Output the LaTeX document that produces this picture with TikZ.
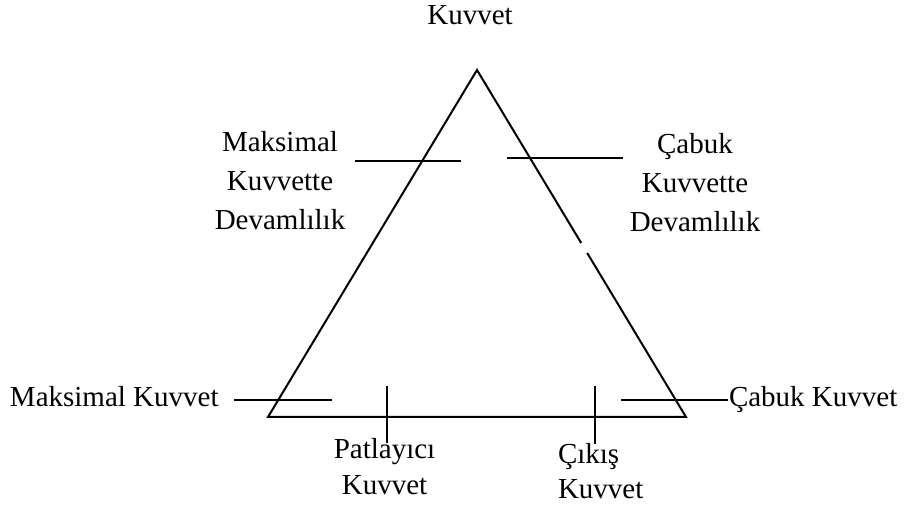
\documentclass[tikz,border=0pt]{standalone}
\usepackage{fontspec}
\setmainfont{Liberation Serif}
\begin{document}
\begin{tikzpicture}[x=0.5pt,y=-0.5pt,line width=1pt,font=\fontsize{14.5}{19.5}\selectfont,
	lbl/.style={inner sep=0pt,align=center}]
	\useasboundingbox (0,0) rectangle (917,513);
	% ucgen
	\coordinate (A) at (477,70);
	\coordinate (B) at (268,417);
	\coordinate (C) at (686,417);
	\coordinate (C1) at (581.2,243);
	\coordinate (C2) at (587.2,253);
	\draw (C1) -- (A) -- (B) -- (C) -- (C2);
	% etiketler
	\node[lbl,anchor=base] (kuvvet) at (470,25) {Kuvvet};
	\node[lbl,anchor=north] (mkd) at (280,130) {Maksimal\\Kuvvette\\Devamlılık};
	\node[lbl,anchor=north] (ckd) at (695,132) {Çabuk\\Kuvvette\\Devamlılık};
	\node[lbl,anchor=base west] (mk) at (9,407) {Maksimal Kuvvet};
	\node[lbl,anchor=base west] (ck) at (728,407) {Çabuk Kuvvet};
	\node[lbl,anchor=north,font=\fontsize{14.5}{18}\selectfont] (pk) at (384.5,437) {Patlayıcı\\Kuvvet};
	\node[lbl,anchor=north west,align=left,font=\fontsize{14.5}{17.5}\selectfont] (cik) at (557,442) {Çıkış\\Kuvvet};
	% cizgiler
	\coordinate (m1) at (355,161); \coordinate (m2) at (461,161);
	\coordinate (c1) at (507,158); \coordinate (c2) at (623,158);
	\coordinate (k1) at (234,400); \coordinate (k2) at (332,400);
	\coordinate (q1) at (621,400);
	\coordinate (p1) at (387,386); \coordinate (p2) at (387,443);
	\coordinate (s1) at (595,386); \coordinate (s2) at (595,444);
	\draw (m1) -- (m2);
	\draw (c1) -- (c2);
	\draw (k1) -- (k2);
	\draw (q1) -- (ck.west |- q1);
	\draw (p1) -- (p2);
	\draw (s1) -- (s2);
\end{tikzpicture}
\end{document}
